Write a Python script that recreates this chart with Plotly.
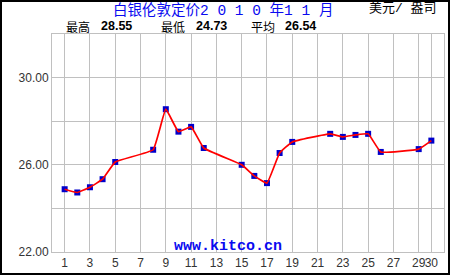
import plotly.graph_objects as go

days = [1, 2, 3, 4, 5, 8, 9, 10, 11, 12, 15, 16, 17, 18, 19, 22, 23, 24, 25, 26, 29, 30]
prices = [24.88, 24.73, 24.97, 25.34, 26.13, 26.69, 28.55, 27.52, 27.74, 26.77, 26.00,
          25.49, 25.16, 26.54, 27.05, 27.42, 27.28, 27.37, 27.42, 26.59, 26.72, 27.11]
x_ticks = [1, 3, 5, 7, 9, 11, 13, 15, 17, 19, 21, 23, 25, 27, 29, 30]
y_ticks = [22, 26, 30]
y_tick_text = ["22.00", "26.00", "30.00"]
title_text = "白银伦敦定价2 0 1 0 年1 1 月"
unit_text = "美元/ 盎司"
stat_labels = ["最高", "最低", "平均"]
stat_values = ["28.55", "24.73", "26.54"]
site_text = "www.kitco.cn"

W_FIG, H_FIG = 450, 275
L, T, R, B = 52, 34, 6, 23
W = W_FIG - L - R
H = H_FIG - T - B


def px(x):
    return (x - L) / W


def py(y):
    return (T + H - y) / H


GRID = "#C0C0C0"
TXT = "#333333"

fig = go.Figure()
fig.add_trace(go.Scatter(x=days, y=prices, mode="markers",
                         marker=dict(symbol="square", size=6, color="#0000CC"),
                         hoverinfo="skip", showlegend=False))
fig.add_trace(go.Scatter(x=days, y=prices, mode="lines",
                         line=dict(color="#FF0000", width=1.7, shape="spline", smoothing=0.3),
                         showlegend=False))

ann = []
ann.append(dict(text=title_text, x=px(223), y=py(10), xref="paper", yref="paper",
                xanchor="center", yanchor="middle", showarrow=False,
                font=dict(family="Liberation Mono, Noto Sans CJK SC", size=14.5, color="#0A0AF0")))
ann.append(dict(text=unit_text, x=px(367), y=py(9), xref="paper", yref="paper",
                xanchor="left", yanchor="middle", showarrow=False,
                font=dict(family="Liberation Mono, Noto Sans CJK SC", size=13, color="#000000")))
label_x = [64, 159, 249]
value_x = [99, 194, 283]
for lab, val, lx, vx in zip(stat_labels, stat_values, label_x, value_x):
    ann.append(dict(text=lab, x=px(lx), y=py(26.5), xref="paper", yref="paper",
                    xanchor="left", yanchor="middle", showarrow=False,
                    font=dict(family="Noto Sans CJK SC", size=12, color="#000000")))
    ann.append(dict(text="<b>" + val + "</b>", x=px(vx), y=py(26.5), xref="paper", yref="paper",
                    xanchor="left", yanchor="middle", showarrow=False,
                    font=dict(family="Liberation Sans", size=12.5, color="#000000")))
ann.append(dict(text="<b>" + site_text + "</b>", x=px(172), y=py(246), xref="paper", yref="paper",
                xanchor="left", yanchor="middle", showarrow=False,
                font=dict(family="Liberation Mono", size=15, color="#0A0AF0")))

fig.update_layout(
    width=W_FIG, height=H_FIG,
    margin=dict(l=L, r=R, t=T, b=B, pad=0),
    paper_bgcolor="white", plot_bgcolor="white",
    annotations=ann,
    shapes=[dict(type="rect", xref="paper", yref="paper",
                 x0=px(1), x1=px(449), y0=py(274), y1=py(1),
                 line=dict(color="black", width=2), fillcolor="rgba(0,0,0,0)")],
    xaxis=dict(range=[0.0, 31.0], tickvals=x_ticks, ticktext=[str(v) for v in x_ticks],
               tickangle=0,
               showgrid=True, gridcolor=GRID, gridwidth=1, zeroline=False,
               showline=True, linecolor=GRID, linewidth=1, mirror=True, ticks="",
               tickfont=dict(family="Liberation Sans", size=12, color=TXT)),
    yaxis=dict(range=[22, 32], tickvals=y_ticks, ticktext=y_tick_text,
               showgrid=True, gridcolor=GRID, gridwidth=1, zeroline=False,
               showline=True, linecolor=GRID, linewidth=1, mirror=True, ticks="",
               minor=dict(dtick=2, tick0=22, showgrid=True, gridcolor=GRID, gridwidth=1),
               tickfont=dict(family="Liberation Sans", size=12, color=TXT)),
)

fig.write_html("out.html")
